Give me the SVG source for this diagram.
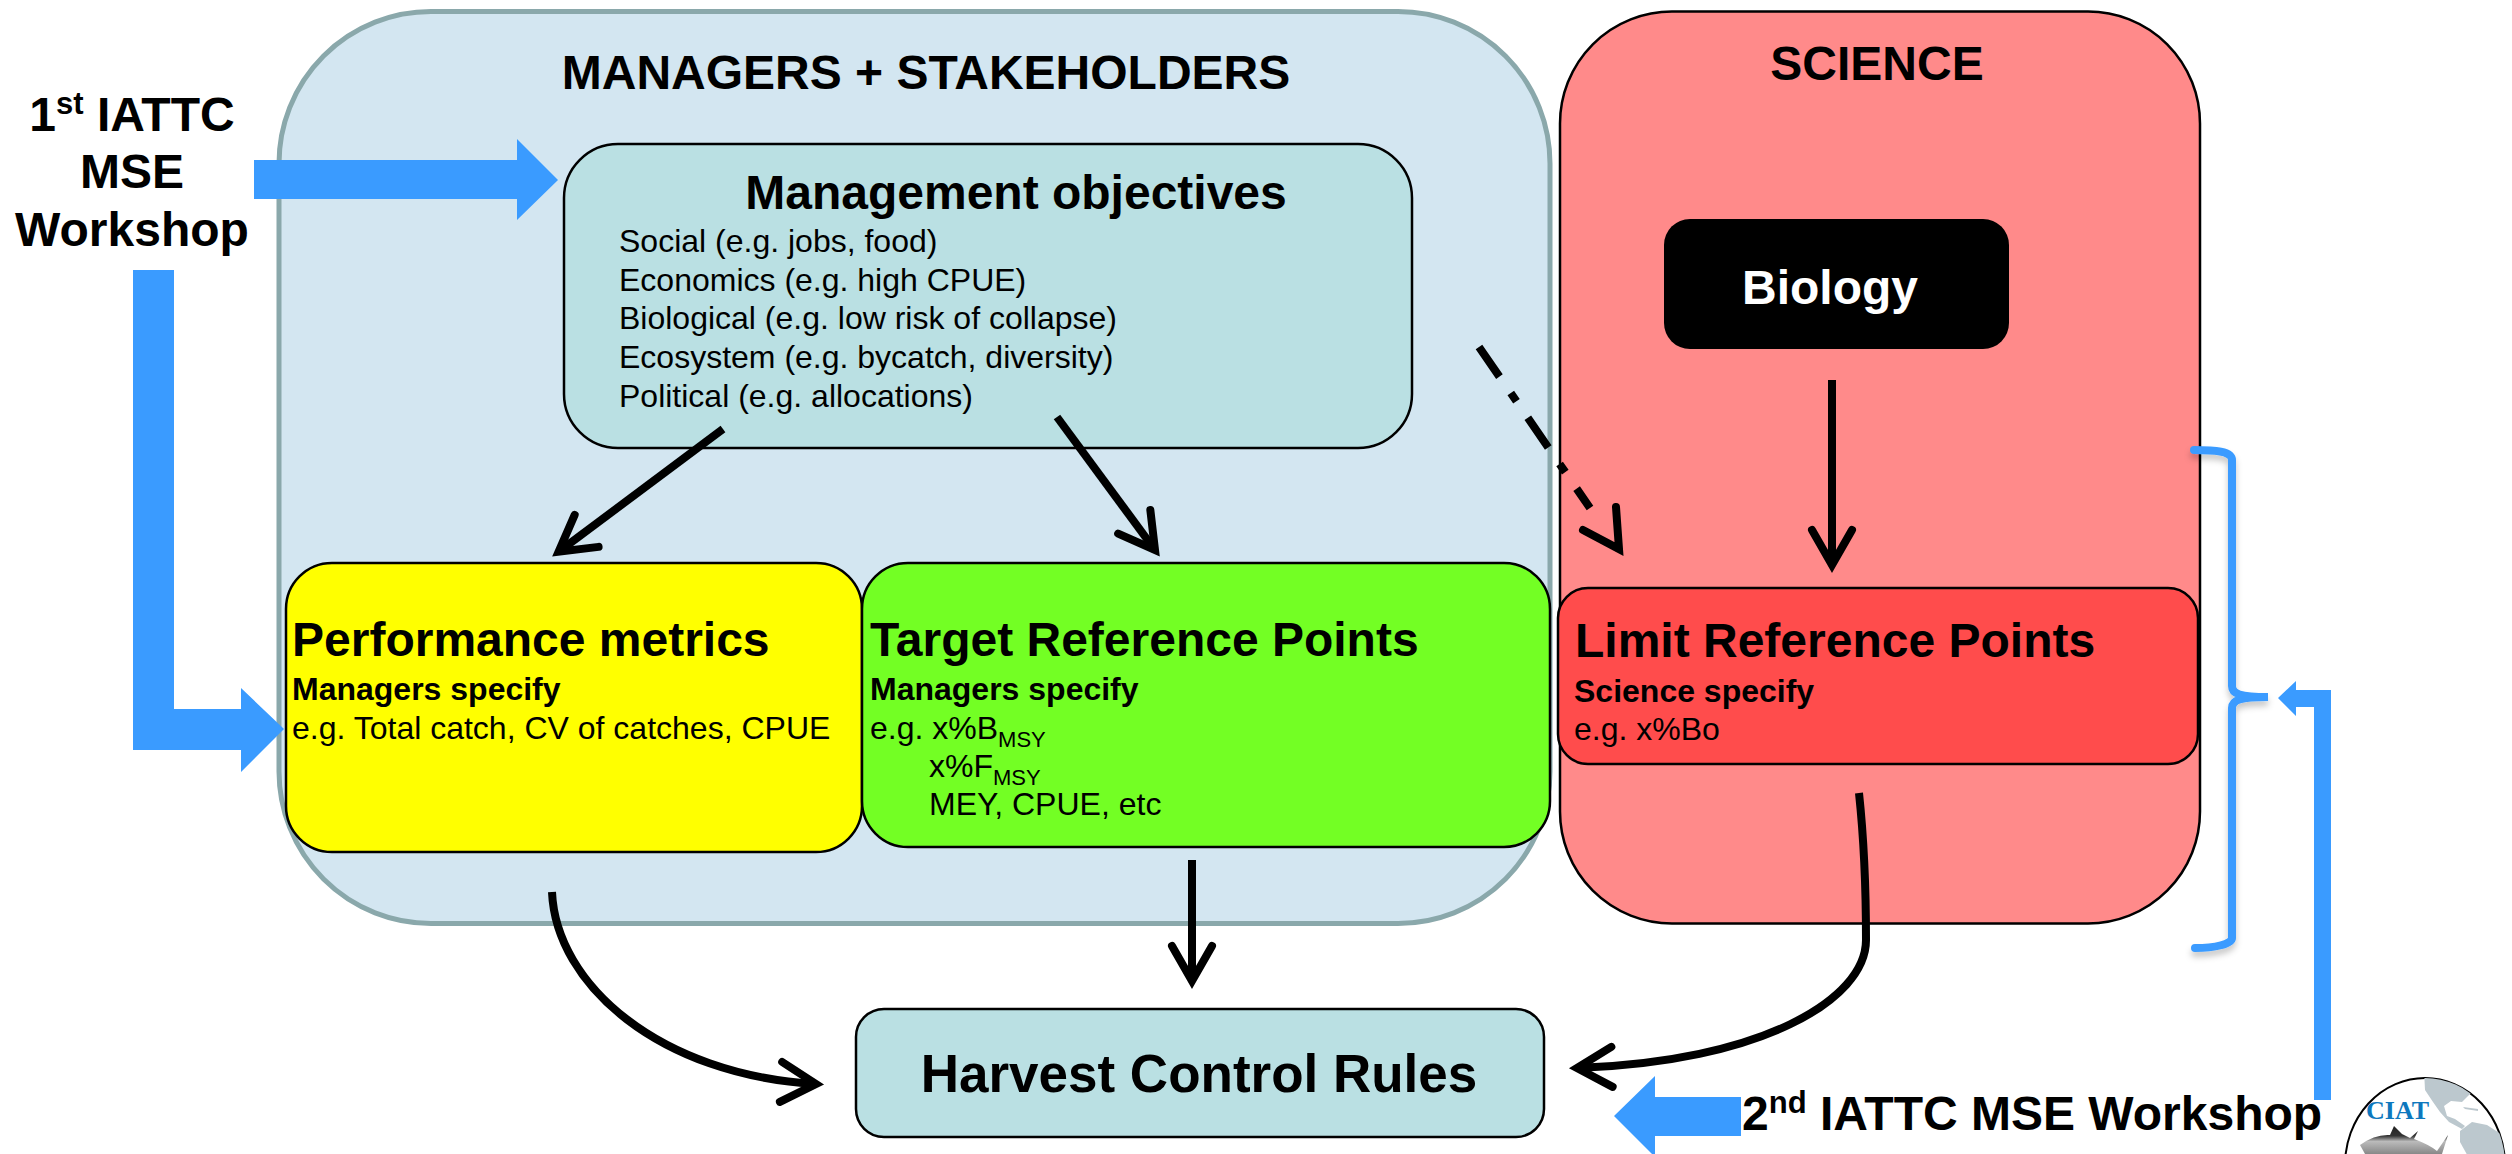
<svg xmlns="http://www.w3.org/2000/svg" width="2512" height="1154" viewBox="0 0 2512 1154">
<style>
text{font-family:"Liberation Sans",Arial,sans-serif;fill:#000}
.b{font-weight:700}
.h{font-size:48px;font-weight:700}
.s{font-size:32px;font-weight:700}
.t{font-size:32px}
.m{text-anchor:middle}
.box{stroke:#000;stroke-width:2.5}
.blue{fill:#3A9BFF}
.ln{fill:none;stroke:#000;stroke-width:8}
.hd{fill:none;stroke:#000;stroke-width:8;stroke-linecap:round;stroke-miterlimit:10}
</style>
<defs>
<marker id="ah" markerUnits="userSpaceOnUse" markerWidth="60" markerHeight="60" refX="0" refY="0" orient="auto" overflow="visible"><path class="hd" d="M-35,-20 L0,0 L-35,20"/></marker>
<filter id="sh" x="-30%" y="-10%" width="160%" height="120%"><feDropShadow dx="0" dy="5" stdDeviation="3" flood-color="#000" flood-opacity=".22"/></filter>
<clipPath id="lc"><ellipse cx="2425" cy="1165" rx="80" ry="87"/></clipPath>
<linearGradient id="fg" x1="0" y1="0" x2="0" y2="1"><stop offset="0" stop-color="#222"/><stop offset=".35" stop-color="#333"/><stop offset=".55" stop-color="#bbb"/><stop offset="1" stop-color="#888"/></linearGradient>
</defs>

<g id="managers-stakeholders">
<rect x="279" y="11.500" width="1271" height="912" rx="152" ry="152" fill="#D3E6F1" stroke="#8AA8AB" stroke-width="5"/>
<text class="b m" x="926" y="89" font-size="48">MANAGERS + STAKEHOLDERS</text>
</g>
<g id="science">
<rect x="1560" y="11.500" width="640" height="912" rx="112" ry="112" fill="#FF8A8A" class="box"/>
<text class="b m" x="1877" y="80" font-size="48">SCIENCE</text>
</g>
<g id="management-objectives">
<rect x="564" y="144" width="848" height="304" rx="54" ry="54" fill="#BAE0E3" class="box"/>
<text class="h m" x="1016" y="209">Management objectives</text>
<text class="t" x="619" y="252">Social (e.g. jobs, food)</text>
<text class="t" x="619" y="291">Economics (e.g. high CPUE)</text>
<text class="t" x="619" y="329">Biological (e.g. low risk of collapse)</text>
<text class="t" x="619" y="368">Ecosystem (e.g. bycatch, diversity)</text>
<text class="t" x="619" y="407">Political (e.g. allocations)</text>
</g>
<g id="biology">
<rect x="1664" y="219" width="345" height="130" rx="26" ry="26" fill="#000"/>
<text class="h m" x="1830" y="304" style="fill:#fff">Biology</text>
</g>
<g id="performance-metrics">
<rect x="286" y="563" width="576" height="289" rx="46" ry="46" fill="#FFFF00" class="box"/>
<text class="h" x="292" y="656">Performance metrics</text>
<text class="s" x="292" y="700">Managers specify</text>
<text class="t" x="292" y="739">e.g. Total catch, CV of catches, CPUE</text>
</g>
<g id="target-reference-points">
<rect x="862" y="563" width="688" height="284" rx="46" ry="46" fill="#73FF24" class="box"/>
<text class="h" x="870" y="656">Target Reference Points</text>
<text class="s" x="870" y="700">Managers specify</text>
<text class="t" x="870" y="739">e.g. x%B<tspan font-size="22" dy="8">MSY</tspan></text>
<text class="t" x="929" y="777">x%F<tspan font-size="22" dy="8">MSY</tspan></text>
<text class="t" x="929" y="815">MEY, CPUE, etc</text>
</g>
<g id="limit-reference-points">
<rect x="1558" y="588" width="640" height="176" rx="30" ry="30" fill="#FF4C4C" class="box"/>
<text class="h" x="1575" y="657">Limit Reference Points</text>
<text class="s" x="1574" y="702">Science specify</text>
<text class="t" x="1574" y="740">e.g. x%Bo</text>
</g>
<g id="harvest-control-rules">
<rect x="856" y="1009" width="688" height="128" rx="28" ry="28" fill="#BAE0E3" class="box"/>
<text class="b m" x="1199" y="1092" font-size="53">Harvest Control Rules</text>
</g>

<g id="connectors">
<path class="ln" marker-end="url(#ah)" d="M723,429 L558.600,551.800"/>
<path class="ln" marker-end="url(#ah)" d="M1057,417 L1155,550"/>
<path class="ln" stroke-dasharray="36 20 10 20" d="M1479,347 L1590,508"/>
<path class="hd" d="M1616,507 L1619,549 L1583,530"/>
<path class="ln" marker-end="url(#ah)" d="M1832,380 L1832,565"/>
<path class="ln" marker-end="url(#ah)" d="M1192,860 L1192,981"/>
<path class="ln" marker-end="url(#ah)" d="M552,892 C556,985 660,1075 816,1084"/>
<path class="ln" marker-end="url(#ah)" d="M1859,793 C1864,840 1866,900 1866,940 C1866,1000 1760,1062 1577,1068"/>
<path class="blue" d="M254,160 H517 V139 L558,180 L517,220 V199 H254 Z"/>
<path class="blue" d="M133,270 H174 V709 H241 V688 L284,729 L241,772 V750 H133 Z"/>
<path class="blue" d="M2331,1100 H2314 V707 H2296 V716 L2278,698 L2296,681 V690 H2331 Z"/>
<path class="blue" d="M1741,1097 H1655 V1076 L1614,1116 L1655,1157 V1136 H1741 Z"/>
<path fill="none" stroke="#3A9BFF" stroke-width="8" stroke-linecap="round" filter="url(#sh)" d="M2194,450 C2215,450 2232,451 2232,460 V686 C2232,694 2240,697 2268,697 C2240,697 2232,700 2232,708 V938 C2232,944 2215,948 2195,948"/>
</g>

<g id="workshop-1-label">
<text class="b m" x="132" y="131" font-size="48">1<tspan font-size="31" dy="-17">st</tspan><tspan dy="17"> IATTC</tspan></text>
<text class="b m" x="132" y="188" font-size="48">MSE</text>
<text class="b m" x="132" y="246" font-size="48">Workshop</text>
</g>
<g id="workshop-2-label">
<text class="b" x="1742" y="1130" font-size="48">2<tspan font-size="31" dy="-17">nd</tspan><tspan dy="17"> IATTC MSE Workshop</tspan></text>
</g>

<g id="ciat-logo">
<ellipse cx="2425" cy="1165" rx="80" ry="87" fill="#fff" stroke="#000" stroke-width="2"/>
<g clip-path="url(#lc)" fill="#BCC8CE">
<path d="M2424,1070 L2425,1090 L2433,1102 L2440,1112 L2449,1122 L2462,1129 L2465,1126 L2455,1119 L2447,1116 L2444,1106 L2451,1101 L2462,1102 L2470,1094 L2476,1090 L2490,1070 Z"/>
<path d="M2463,1107 L2478,1109 L2478,1111 L2465,1109 Z"/>
<path d="M2460,1131 L2472,1122 L2487,1125 L2510,1140 V1160 H2470 L2460,1142 Z"/>
<path fill="url(#fg)" d="M2360,1145 Q2375,1134 2390,1135 L2394,1126 L2402,1134 L2410,1138 L2418,1131 L2414,1139 Q2430,1145 2437,1151 L2448,1135 L2442,1154 H2365 Z"/>
</g>
<text x="2366" y="1119" font-size="26" font-weight="700" style="font-family:'Liberation Serif',serif;fill:#0E78BE">CIAT</text>
</g>
</svg>
